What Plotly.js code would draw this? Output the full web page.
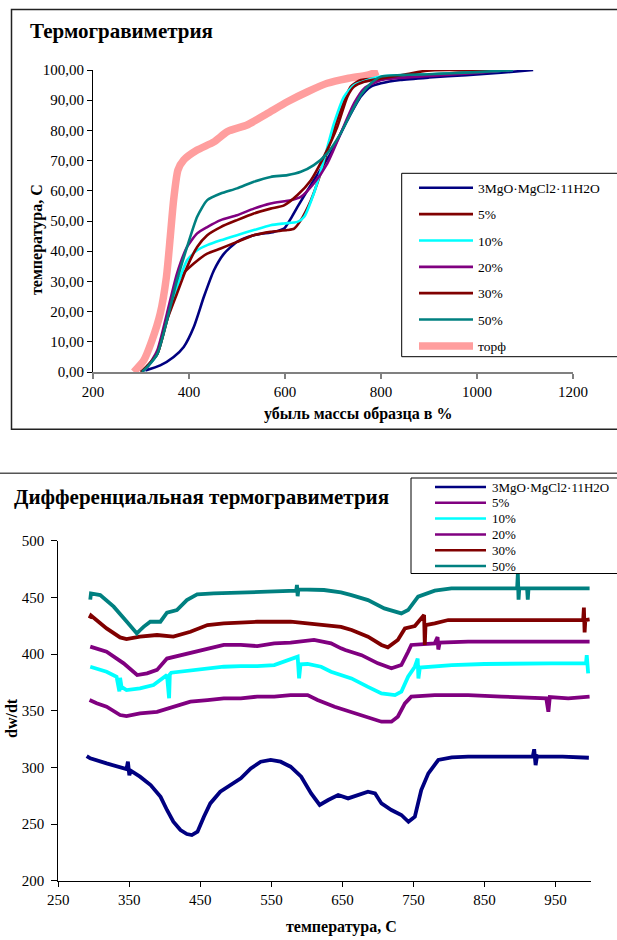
<!DOCTYPE html>
<html>
<head>
<meta charset="utf-8">
<script src="https://cdn.plot.ly/plotly-3.0.1.min.js"></script>
<style>html,body{margin:0;padding:0;background:#fff;}#chart{width:617px;height:940px;}</style>
</head>
<body>
<div id="chart"></div>
<script>
// ---------- Термогравиметрия (top) ----------
const tgNames = ['3MgO·MgCl2·11H2O', '5%', '10%', '20%', '30%', '50%', 'торф'];

const tg_x_3mgo = [309, 340, 368, 389, 410, 431, 452, 473, 500, 535, 577, 598, 612, 626, 660, 695, 730, 758, 779, 800, 840, 900, 978, 1050, 1117];
const tg_y_3mgo = [0.5, 2.2, 5, 8.3, 14.9, 24.9, 33.7, 39.2, 43.1, 45.3, 46.4, 47.5, 50.8, 54.7, 63.5, 72.4, 83.4, 91.2, 94.5, 95.6, 96.7, 97.5, 98.3, 99.1, 100];

const tg_x_5 = [300, 313, 334, 354, 368, 382, 410, 438, 466, 500, 535, 570, 605, 619, 633, 654, 674, 695, 716, 737, 758, 800, 850, 900, 1000, 1060];
const tg_y_5 = [0, 2, 6, 17, 27, 31.5, 35.9, 39.2, 40.9, 43.1, 45.3, 46.4, 47, 47.5, 50.3, 56.9, 65.7, 76.8, 86.7, 94.5, 96.7, 97.2, 98, 98.5, 99.5, 100];

const tg_x_10 = [302, 315, 334, 354, 375, 396, 417, 438, 466, 500, 535, 570, 598, 626, 640, 660, 681, 702, 723, 744, 772, 800, 900, 1000, 1075];
const tg_y_10 = [0, 2, 6, 17.1, 28.2, 37, 40.3, 42, 43.6, 45.3, 47, 48.6, 49.2, 49.7, 51.4, 59.1, 70.2, 82.3, 91.2, 95, 96.7, 97.8, 98.6, 99.3, 100];

const tg_x_20 = [302, 315, 334, 354, 375, 396, 417, 438, 466, 500, 535, 570, 612, 633, 660, 688, 716, 744, 765, 800, 900, 1000, 1070];
const tg_y_20 = [0, 2, 7.2, 19.3, 32.6, 41.4, 45.9, 48, 50.3, 51.9, 54.1, 55.8, 56.9, 58, 62.4, 69, 79, 89, 93.9, 96.7, 98, 99, 100];

const tg_x_30 = [300, 313, 334, 354, 375, 396, 417, 438, 466, 500, 535, 570, 598, 626, 654, 681, 709, 730, 744, 765, 800, 850, 896, 950, 1060];
const tg_y_30 = [0, 2, 6, 17.1, 26, 34.8, 41.4, 45.3, 48, 50.3, 52.5, 54.1, 55.2, 58.6, 63.5, 71.3, 81.2, 91.2, 94.5, 96.1, 97.2, 98.5, 99.8, 100, 100];

const tg_x_50 = [302, 315, 334, 354, 375, 396, 417, 438, 466, 500, 535, 570, 605, 633, 660, 688, 716, 737, 758, 779, 800, 900, 1000, 1075];
const tg_y_50 = [0, 2, 6, 17.1, 30.4, 41.4, 51.4, 56.9, 59.1, 60.8, 63, 64.6, 65.2, 66.3, 68.5, 72.4, 79, 85.6, 91.7, 95.6, 97.8, 98.6, 99.3, 100];

const tg_x_torf = [285, 306, 323, 340, 353, 361, 368, 377, 389, 417, 452, 480, 521, 563, 605, 647, 688, 730, 772, 794];
const tg_y_torf = [0, 3.9, 10.5, 19.3, 31.5, 44.8, 57, 66.9, 70.2, 73.5, 76.2, 79.6, 81.8, 85.6, 89.5, 92.8, 95.6, 97.2, 98.3, 99.5];

const tgYTicks = [0, 10, 20, 30, 40, 50, 60, 70, 80, 90, 100];
const tgXTicks = [200, 400, 600, 800, 1000, 1200];

// ---------- Дифференциальная термогравиметрия (bottom) ----------
const dtgNames = ['3MgO·MgCl2·11H2O', '5%', '10%', '20%', '30%', '50%'];

const dtg_x_3mgo = [290, 295, 318, 342, 346, 348, 350, 352, 365, 380, 394, 403, 412, 422, 431, 438, 446, 455, 464, 478, 493, 507, 521, 535, 549, 563, 577, 592, 606, 618, 630, 644, 658, 672, 686, 696, 705, 719, 733, 743, 752, 761, 771, 785, 804, 827, 874, 918, 920, 922, 924, 926, 960, 997];
const dtg_y_3mgo = [310, 308, 303.5, 299, 298.5, 305, 293, 297, 291.8, 284.4, 274, 262.4, 252, 244.7, 241.2, 240.3, 243.2, 256.5, 268.2, 278.5, 284.4, 290.3, 299, 305, 306.5, 305, 300.6, 291.8, 277, 266.8, 271.2, 275.6, 272.6, 275.6, 278.5, 277, 268.2, 262.4, 258, 252, 256.5, 280, 294.7, 306.5, 308.8, 309.4, 309.4, 309.4, 316, 302, 310, 309.4, 309.4, 308.5];

const dtg_x_5 = [294, 304, 318, 337, 346, 365, 389, 412, 436, 460, 483, 507, 530, 554, 577, 601, 615, 639, 663, 686, 705, 719, 728, 738, 747, 780, 827, 874, 921, 937, 940, 942, 968, 998];
const dtg_y_5 = [359.4, 356.5, 353.5, 346.2, 345.3, 347.6, 349, 353.5, 358, 359.4, 360.9, 360.9, 362.4, 362.4, 363.8, 363.8, 359.4, 353.5, 349, 344.7, 340.3, 340.3, 344.7, 356.5, 362.4, 363.8, 363.8, 362.4, 360.9, 361, 349, 362, 360.9, 362.4];

const dtg_x_10 = [295, 318, 332, 336, 337, 339, 346, 365, 384, 403, 406, 407, 409, 422, 441, 460, 483, 507, 530, 554, 587, 589, 591, 601, 620, 634, 648, 662.7, 686, 705, 724, 733, 742.5, 752, 756, 757, 759, 771, 804, 850, 897, 944, 993, 994, 996];
const dtg_y_10 = [388.8, 384.4, 380, 367, 379, 371, 368.2, 369.7, 372.6, 381.5, 361, 382, 383.5, 384.4, 386.5, 387.4, 388.8, 389.4, 389.4, 390.3, 397.6, 378.5, 391, 391.2, 388.8, 384.4, 381.5, 378.5, 371, 365.3, 363.8, 366.8, 380, 388.8, 396, 378.5, 388, 388.8, 390.3, 391.2, 391.8, 391.8, 391.8, 399, 383];

const dtg_x_20 = [295, 318, 342, 361, 375, 389, 403, 422, 441, 460, 483, 507, 530, 554, 577, 610, 634, 648, 654, 677, 700, 719, 733, 742.5, 747, 780, 784, 785, 787, 827, 921, 998];
const dtg_y_20 = [406.5, 402, 391.8, 381.5, 383, 386, 396, 399, 402, 405, 408, 408, 407, 409.4, 410, 412.4, 409.4, 405, 403.5, 399, 391.8, 387.4, 390.3, 402, 408, 409.4, 415, 404, 410, 410.9, 410.9, 410.9];

const dtg_x_30 = [294, 296, 318, 337, 346, 365, 389, 412, 436, 460, 483, 530, 577, 624, 648, 663, 686, 705, 714, 728, 738, 752, 765, 766, 767, 780, 799, 874, 989, 990, 991, 992, 998];
const dtg_y_30 = [431.5, 434, 422.6, 414.7, 413.2, 415.3, 416.8, 415.3, 419.7, 425.6, 427, 428.5, 428.5, 425.6, 424, 421.2, 415.3, 408, 405.9, 412.4, 422.6, 424.7, 434.4, 408, 425.5, 427, 430, 430, 430, 441, 419, 430, 430.6];

const dtg_x_50 = [295, 296, 309, 328, 346.5, 360.6, 365, 370, 379.5, 393.7, 403, 417, 431, 445.5, 469, 506.7, 544.4, 585, 586, 587, 588, 624, 648, 662.7, 686, 709, 733, 742.5, 756.6, 780, 803.5, 874, 896, 897, 898, 899, 910, 911, 912, 950, 998];
const dtg_y_50 = [448, 453.5, 452, 441.8, 428.5, 418.2, 421, 424, 428.5, 428.5, 436.5, 438.8, 447.6, 452.6, 453.5, 454, 455, 456, 461, 451, 457, 456.5, 454.4, 452, 447.6, 440.3, 435.9, 438.8, 450.6, 455.9, 458, 458, 458, 471, 448, 458, 458, 448, 458, 458, 458];

const dtgYTicks = [200, 250, 300, 350, 400, 450, 500];
const dtgXTicks = [250, 350, 450, 550, 650, 750, 850, 950];

// ---------- styling ----------
const W = 617, H = 940;
const PX = v => v / W;
const PY = v => 1 - v / H;
const SERIF = '"Liberation Serif", "Times New Roman", Times, serif';

const tgColors = ['#000080', '#800000', '#00FFFF', '#800080', '#800000', '#008080', '#FF9E9E'];
const tgWidths = [2.6, 2.6, 2.6, 2.6, 2.6, 2.6, 7.5];
const dtgColors = ['#000080', '#800080', '#00FFFF', '#800080', '#800000', '#008080'];

const tgX = [tg_x_3mgo, tg_x_5, tg_x_10, tg_x_20, tg_x_30, tg_x_50, tg_x_torf];
const tgY = [tg_y_3mgo, tg_y_5, tg_y_10, tg_y_20, tg_y_30, tg_y_50, tg_y_torf];
const dtgX = [dtg_x_3mgo, dtg_x_5, dtg_x_10, dtg_x_20, dtg_x_30, dtg_x_50];
const dtgY = [dtg_y_3mgo, dtg_y_5, dtg_y_10, dtg_y_20, dtg_y_30, dtg_y_50];

const traces = [];
const order = [6, 0, 1, 2, 3, 4, 5];
order.forEach(i => {
  traces.push({
    type: 'scatter', mode: 'lines', name: tgNames[i],
    x: tgX[i], y: tgY[i], xaxis: 'x', yaxis: 'y',
    line: {color: tgColors[i], width: tgWidths[i], shape: 'spline', smoothing: 0.6},
    legendgroup: 'g' + i, legendrank: i + 1,
    hoverinfo: 'skip'
  });
});
dtgX.forEach((xs, i) => {
  traces.push({
    type: 'scatter', mode: 'lines', name: dtgNames[i],
    x: xs, y: dtgY[i], xaxis: 'x2', yaxis: 'y2',
    line: {color: dtgColors[i], width: 3.8},
    showlegend: false, hoverinfo: 'skip'
  });
});

const tickFont = {family: SERIF, size: 15, color: '#000'};
const boldFont = s => ({family: SERIF, size: s, color: '#000', weight: 'bold'});

const legTop = 478, legLeft = 411, legStep = 15.8, legFirst = 487;
const shapes = [
  {type: 'rect', xref: 'paper', yref: 'paper', x0: PX(11.5), x1: PX(640), y0: PY(429.3), y1: PY(9.5),
   line: {color: '#222', width: 1.5}},
  {type: 'line', xref: 'paper', yref: 'paper', x0: 0, x1: 1, y0: PY(473.3), y1: PY(473.3),
   line: {color: '#555', width: 1.5}},
  {type: 'rect', xref: 'paper', yref: 'paper', x0: PX(401.7), x1: PX(640), y0: PY(356.7), y1: PY(173.3),
   line: {color: '#000', width: 1}, fillcolor: '#fff', layer: 'below'},
  {type: 'rect', xref: 'paper', yref: 'paper', x0: PX(legLeft), x1: PX(640), y0: PY(573.5), y1: PY(legTop),
   line: {color: '#000', width: 1}, fillcolor: '#fff', layer: 'above'}
];
const annotations = [
  {text: 'Термогравиметрия', xref: 'paper', yref: 'paper', x: PX(28), y: PY(31), xanchor: 'left', yanchor: 'middle', showarrow: false, font: boldFont(21)},
  {text: 'убыль массы образца в %', xref: 'paper', yref: 'paper', x: PX(358), y: PY(414), xanchor: 'center', yanchor: 'middle', showarrow: false, font: boldFont(16)},
  {text: 'температура, С', xref: 'paper', yref: 'paper', x: PX(37), y: PY(240), xanchor: 'center', yanchor: 'middle', textangle: -90, showarrow: false, font: boldFont(16)},
  {text: 'Дифференциальная термогравиметрия', xref: 'paper', yref: 'paper', x: PX(12), y: PY(497), xanchor: 'left', yanchor: 'middle', showarrow: false, font: boldFont(21)},
  {text: 'температура, С', xref: 'paper', yref: 'paper', x: PX(342), y: PY(927), xanchor: 'center', yanchor: 'middle', showarrow: false, font: boldFont(16)},
  {text: 'dw/dt', xref: 'paper', yref: 'paper', x: PX(11), y: PY(718), xanchor: 'center', yanchor: 'middle', textangle: -90, showarrow: false, font: boldFont(16)}
];
dtgNames.forEach((n, i) => {
  const yy = legFirst + i * legStep;
  shapes.push({type: 'line', xref: 'paper', yref: 'paper', x0: PX(435), x1: PX(486), y0: PY(yy), y1: PY(yy),
    line: {color: dtgColors[i], width: 2.5}, layer: 'above'});
  annotations.push({text: n, xref: 'paper', yref: 'paper', x: PX(490), y: PY(yy), xanchor: 'left', yanchor: 'middle',
    showarrow: false, font: {family: SERIF, size: 13, color: '#000'}});
});

const layout = {
  width: W, height: H, autosize: false,
  margin: {l: 0, r: 0, t: 0, b: 0},
  paper_bgcolor: '#fff', plot_bgcolor: 'rgba(0,0,0,0)',
  separators: ', ',
  font: {family: SERIF, color: '#000'},
  showlegend: true,
  legend: {
    x: PX(414), y: PY(172.5), xanchor: 'left', yanchor: 'top',
    bgcolor: 'rgba(0,0,0,0)', borderwidth: 0,
    font: {family: SERIF, size: 13.5, color: '#000'},
    itemwidth: 54, tracegroupgap: 5.8, traceorder: 'grouped'
  },
  xaxis: {
    domain: [PX(93), PX(573)], anchor: 'y', range: [200, 1200],
    tickvals: tgXTicks, ticks: 'outside', ticklen: 5, tickcolor: '#808080', tickwidth: 1.5,
    showline: true, linecolor: '#808080', linewidth: 1.5, showgrid: false, zeroline: false,
    tickfont: tickFont
  },
  yaxis: {
    domain: [PY(372), PY(70)], anchor: 'x', range: [0, 100],
    tickvals: tgYTicks, tickformat: '.2f', ticks: 'outside', ticklen: 5, tickcolor: '#000', tickwidth: 1,
    showline: true, linecolor: '#000', linewidth: 1, showgrid: false, zeroline: false,
    tickfont: tickFont
  },
  xaxis2: {
    domain: [PX(58.3), PX(591)], anchor: 'y2', range: [250, 1000],
    tickvals: dtgXTicks, ticks: 'outside', ticklen: 5, tickcolor: '#000', tickwidth: 1,
    showline: true, linecolor: '#000', linewidth: 1, showgrid: false, zeroline: false,
    tickfont: tickFont
  },
  yaxis2: {
    domain: [PY(880.7), PY(540.7)], anchor: 'x2', range: [200, 500],
    tickvals: dtgYTicks, ticks: 'outside', ticklen: 6, tickcolor: '#000', tickwidth: 1,
    showline: true, linecolor: '#000', linewidth: 1, showgrid: false, zeroline: false,
    tickfont: tickFont, ticklabelstandoff: 4
  },
  shapes: shapes,
  annotations: annotations
};

Plotly.newPlot('chart', traces, layout, {displayModeBar: false, staticPlot: true});
</script>
</body>
</html>
